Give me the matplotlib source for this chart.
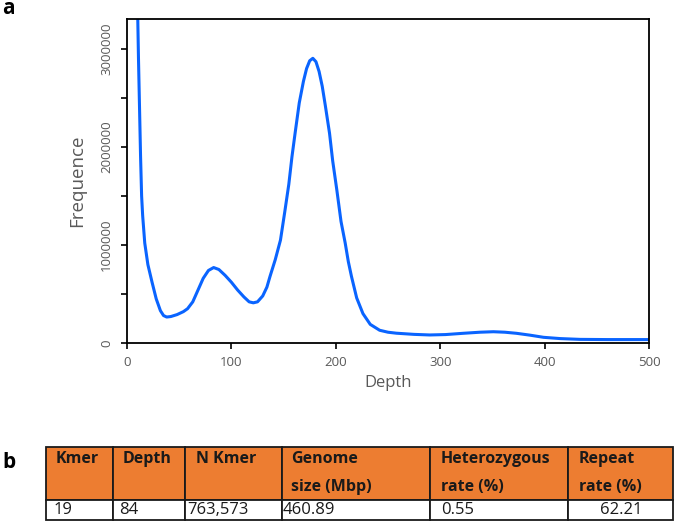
import matplotlib
matplotlib.use("Agg")
import matplotlib.pyplot as plt
from matplotlib.patches import Rectangle
from matplotlib.ticker import MultipleLocator

plt.rcParams['font.family'] = ['Open Sans', 'DejaVu Sans']

# ---- k-mer depth distribution ----
depth = [9, 10, 11, 12, 13, 14, 15, 17, 20, 24, 28, 32, 35, 38, 42, 48, 54, 58, 63, 68,
         73, 78, 83, 88, 94, 100, 106, 112, 117, 121, 125, 130, 134, 137, 142, 147, 151,
         155, 158, 161, 165, 169, 172, 175, 178, 181, 184, 187, 190, 194, 197, 201, 205,
         209, 212, 215, 220, 226, 233, 242, 250, 258, 275, 290, 305, 322, 338, 351, 362,
         373, 386, 399, 415, 434, 460, 500]
frequency = [4600000, 3500000, 2900000, 2400000, 1900000, 1500000, 1300000, 1020000,
             800000, 620000, 450000, 330000, 280000, 265000, 270000, 290000, 320000,
             350000, 420000, 540000, 660000, 740000, 770000, 750000, 690000, 620000,
             540000, 470000, 420000, 410000, 420000, 480000, 570000, 680000, 850000,
             1050000, 1330000, 1620000, 1900000, 2140000, 2450000, 2670000, 2800000,
             2880000, 2905000, 2870000, 2770000, 2620000, 2420000, 2140000, 1860000,
             1560000, 1240000, 1020000, 830000, 680000, 460000, 300000, 190000, 130000,
             110000, 100000, 88000, 82000, 86000, 99000, 110000, 115000, 110000, 99000,
             80000, 58000, 45000, 37000, 35000, 35000]

x_ticks = [0, 100, 200, 300, 400, 500]
y_ticks = [0, 1000000, 2000000, 3000000]

# ---- table (panel b) ----
table_headers = ["Kmer", "Depth", "N Kmer", "Genome\nsize (Mbp)",
                 "Heterozygous\nrate (%)", "Repeat\nrate (%)"]
table_values = ["19", "84", "763,573", "460.89", "0.55", "62.21"]

W, H = 675, 523
fig = plt.figure(figsize=(W / 100, H / 100), dpi=100)

gray = "#595959"
ax = fig.add_axes([127 / W, 1 - 343 / H, (649 - 127) / W, (343 - 19) / H])
ax.plot(depth, frequency, color="#0a64ff", lw=2.2, solid_joinstyle="round")
ax.set_xlim(0, 500)
ax.set_ylim(0, 3306000)
ax.set_xticks(x_ticks)
ax.set_xticklabels([str(v) for v in x_ticks])
ax.set_yticks(y_ticks)
ax.set_yticklabels([str(v) for v in y_ticks], rotation=90, va="center")
ax.yaxis.set_minor_locator(MultipleLocator(500000))
ax.tick_params(axis="both", which="major", direction="out", length=4, width=1.2,
               colors="black", labelcolor=gray, labelsize=9.5)
ax.tick_params(axis="y", which="minor", direction="out", length=4, width=1.2, color="black")
ax.tick_params(axis="x", pad=5)
ax.tick_params(axis="y", pad=6)
for s in ax.spines.values():
    s.set_linewidth(1.3)
    s.set_color("black")
ax.set_xlabel("Depth", color=gray, fontsize=12, labelpad=5)
ax.set_ylabel("Frequence", color=gray, fontsize=13.5, labelpad=10)

fig.text(2 / W, 1 - 9 / H, "a", fontsize=15, fontweight="bold", va="center", ha="left")
fig.text(2 / W, 1 - 462 / H, "b", fontsize=15, fontweight="bold", va="center", ha="left")

# table drawn in a pixel-coordinate overlay axes
tax = fig.add_axes([0, 0, 1, 1])
tax.set_xlim(0, W)
tax.set_ylim(H, 0)
tax.axis("off")
col_edges = [46, 113, 185, 282, 430, 568, 673]
row_top, row_mid, row_bot = 447, 500, 520
hdr_off = [10, 10, 11, 9, 11, 11]
val_off = [8, 6, 2, 1, 11, 32]
line_y = [459, 487]
for i in range(len(table_headers)):
    x0, x1 = col_edges[i], col_edges[i + 1]
    tax.add_patch(Rectangle((x0, row_top), x1 - x0, row_mid - row_top,
                            facecolor="#ed7d31", edgecolor="#1a1a1a", lw=1.3))
    tax.add_patch(Rectangle((x0, row_mid), x1 - x0, row_bot - row_mid,
                            facecolor="white", edgecolor="#1a1a1a", lw=1.3))
    for j, line in enumerate(table_headers[i].split("\n")):
        tax.text(x0 + hdr_off[i], line_y[j], line, fontsize=11.5, fontweight="bold",
                 color="#1a1a1a", ha="left", va="center")
    tax.text(x0 + val_off[i], 510.5, table_values[i], fontsize=12, color="#1a1a1a",
             ha="left", va="center")

fig.savefig("out.png", dpi=100)
